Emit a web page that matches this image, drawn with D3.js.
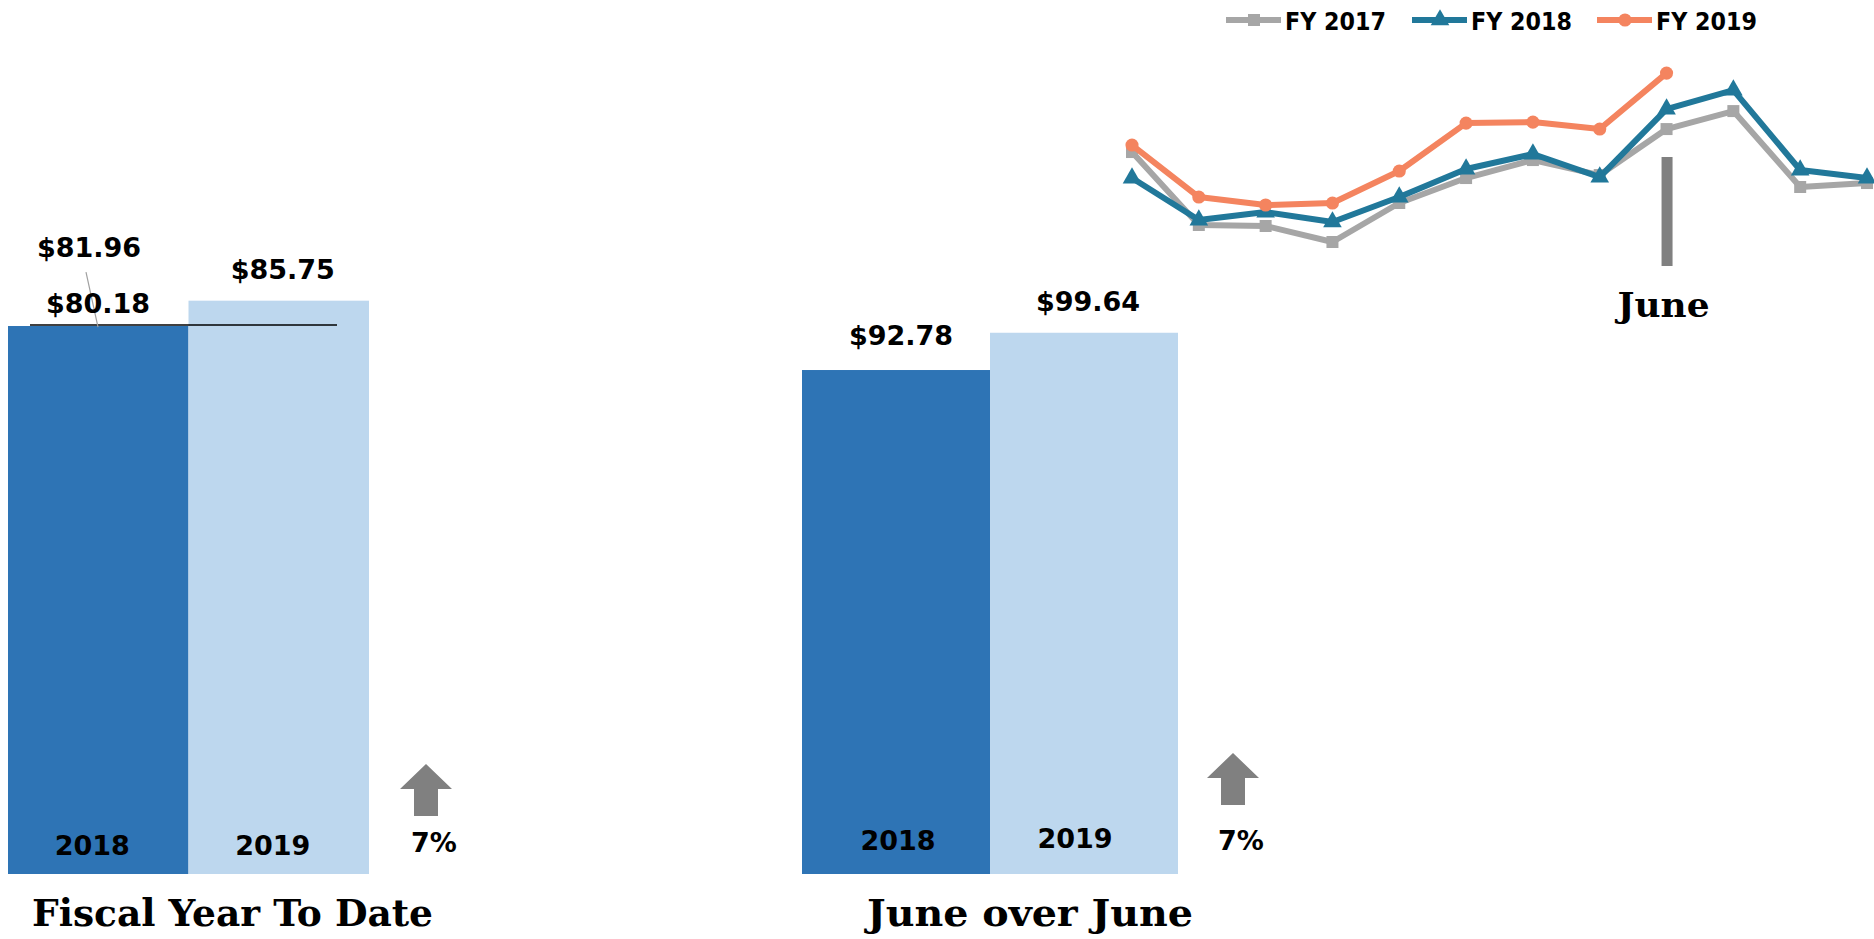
<!DOCTYPE html>
<html>
<head>
<meta charset="utf-8">
<script src="https://cdn.jsdelivr.net/npm/d3@7"></script>
<style>
  html, body { margin: 0; padding: 0; background: #fff; }
  svg { display: block; }
  .num { font-family: "DejaVu Sans", sans-serif; font-weight: bold; fill: #000; }
  .title { font-family: "DejaVu Serif", serif; font-weight: bold; fill: #000; }
</style>
</head>
<body>
<svg id="chart" width="1874" height="939"></svg>
<script>
// ---- data ----
const fytdYears = ["2018", "2019"];
const fytdValues = [81.96, 85.75];
const fytdPriorNote = 80.18;
const fytdChange = "7%";

const juneYears = ["2018", "2019"];
const juneValues = [92.78, 99.64];
const juneChange = "7%";

const months = ["Oct", "Nov", "Dec", "Jan", "Feb", "Mar", "Apr", "May", "Jun", "Jul", "Aug", "Sep"];
const seriesNames = ["FY 2017", "FY 2018", "FY 2019"];
const fy2017 = [84.59, 70.68, 70.49, 67.44, 74.87, 79.63, 83.06, 80.20, 88.97, 92.40, 77.92, 78.68];
const fy2018 = [79.63, 71.63, 73.15, 71.25, 76.01, 81.35, 84.21, 79.82, 92.78, 96.40, 81.16, 79.63];
const fy2019 = [85.92, 76.01, 74.49, 74.87, 80.97, 90.11, 90.30, 88.97, 99.64];
const highlightMonth = "Jun";

// ---- styles ----
const barColors = ["#2E74B5", "#BDD7EE"];
const lineColors = ["#A6A6A6", "#21789A", "#F4845F"];
const arrowColor = "#808080";
const money = v => "$" + d3.format(".2f")(v);

const svg = d3.select("#chart");

// ---- bar panel ----
function barPanel(opt) {
  const g = svg.append("g");
  const x = d3.scaleBand().domain(opt.years).range([opt.x0, opt.x1]).padding(0);
  const y = d3.scaleLinear().domain([0, 100]).range([opt.base, opt.base - opt.pxPer100]);

  g.selectAll("rect.bar").data(opt.values).join("rect")
    .attr("class", "bar")
    .attr("x", (d, i) => x(opt.years[i]))
    .attr("width", x.bandwidth())
    .attr("y", d => y(d))
    .attr("height", d => y(0) - y(d))
    .attr("fill", (d, i) => barColors[i]);

  // year labels inside the bars
  g.selectAll("text.yr").data(opt.years).join("text")
    .attr("class", "num yr")
    .attr("x", (d, i) => x(d) + x.bandwidth() / 2 + opt.yearDx[i])
    .attr("y", (d, i) => y(0) + opt.yearDy[i])
    .attr("text-anchor", "middle")
    .attr("font-size", 27)
    .text(d => d);

  // change arrow and percentage
  const ax = opt.x1 + opt.arrowDx;
  const at = opt.arrowTop;
  const arrow = d3.path();
  arrow.moveTo(ax, at);
  arrow.lineTo(ax + 26, at + 25);
  arrow.lineTo(ax + 12, at + 25);
  arrow.lineTo(ax + 12, at + 52);
  arrow.lineTo(ax - 12, at + 52);
  arrow.lineTo(ax - 12, at + 25);
  arrow.lineTo(ax - 26, at + 25);
  arrow.closePath();
  g.append("path").attr("d", arrow.toString()).attr("fill", arrowColor);
  g.append("text").attr("class", "num")
    .attr("x", ax + 8).attr("y", opt.pctY)
    .attr("text-anchor", "middle").attr("font-size", 27)
    .text(opt.change);

  g.append("text").attr("class", "title")
    .attr("x", opt.titleX).attr("y", 926)
    .attr("font-size", 38)
    .attr("textLength", opt.titleLen).attr("lengthAdjust", "spacingAndGlyphs")
    .text(opt.title);
  return { g, x, y };
}

// Fiscal year to date
const left = barPanel({
  years: fytdYears, values: fytdValues, x0: 8, x1: 369, base: 874, pxPer100: 668.6,
  yearDx: [-6, -6], yearDy: [-19, -19], arrowDx: 57, arrowTop: 764, pctY: 852,
  change: fytdChange, title: "Fiscal Year To Date", titleX: 32, titleLen: 401
});
{
  const { g, x, y } = left;
  const topY = y(fytdValues[0]);
  // level of last year's bar carried across
  g.append("line")
    .attr("x1", x(fytdYears[0]) + 22).attr("x2", x(fytdYears[1]) + x.bandwidth() - 32)
    .attr("y1", topY - 1).attr("y2", topY - 1)
    .attr("stroke", "#000").attr("stroke-width", 1.6);
  // leader from the moved label down to its bar
  g.append("line")
    .attr("x1", x(fytdYears[0]) + 78).attr("y1", topY - 54)
    .attr("x2", x(fytdYears[0]) + 90).attr("y2", topY + 1)
    .attr("stroke", "#A0A0A0").attr("stroke-width", 1.2);
  g.append("text").attr("class", "num")
    .attr("x", x(fytdYears[0]) + 81).attr("y", topY - 69)
    .attr("text-anchor", "middle").attr("font-size", 27)
    .text(money(fytdValues[0]));
  g.append("text").attr("class", "num")
    .attr("x", x(fytdYears[0]) + 90).attr("y", topY - 13)
    .attr("text-anchor", "middle").attr("font-size", 27)
    .text(money(fytdPriorNote));
  g.append("text").attr("class", "num")
    .attr("x", x(fytdYears[1]) + x.bandwidth() / 2 + 4).attr("y", y(fytdValues[1]) - 22)
    .attr("text-anchor", "middle").attr("font-size", 27)
    .text(money(fytdValues[1]));
}

// June over June
const right = barPanel({
  years: juneYears, values: juneValues, x0: 802, x1: 1178, base: 874, pxPer100: 543.2,
  yearDx: [2, -9], yearDy: [-24, -26], arrowDx: 55, arrowTop: 753, pctY: 850,
  change: juneChange, title: "June over June", titleX: 867, titleLen: 326
});
{
  const { g, x, y } = right;
  g.selectAll("text.val").data(juneValues).join("text")
    .attr("class", "num val")
    .attr("x", (d, i) => x(juneYears[i]) + x.bandwidth() / 2 + [5, 4][i])
    .attr("y", (d, i) => y(d) - [25, 22][i])
    .attr("text-anchor", "middle").attr("font-size", 27)
    .text(d => money(d));
}

// ---- monthly trend ----
{
  const g = svg.append("g");
  const x = d3.scalePoint().domain(months).range([1132, 1867]);
  const y = d3.scaleLinear().domain([60, 105]).range([281, 45]);
  const series = [fy2017, fy2018, fy2019];

  // June marker
  const jx = x(highlightMonth);
  g.append("rect").attr("x", jx - 5).attr("width", 11)
    .attr("y", 157).attr("height", 109).attr("fill", arrowColor);
  g.append("text").attr("class", "title")
    .attr("x", jx - 49).attr("y", 317)
    .attr("font-size", 34).attr("textLength", 92).attr("lengthAdjust", "spacingAndGlyphs")
    .text("June");

  const line = d3.line().x((d, i) => x(months[i])).y(d => y(d));
  const symbols = [d3.symbolSquare, d3.symbolTriangle, d3.symbolCircle];
  const symSizes = [144, 150, 135];

  series.forEach((vals, s) => {
    g.append("path").datum(vals)
      .attr("d", line).attr("fill", "none")
      .attr("stroke", lineColors[s]).attr("stroke-width", 6)
      .attr("stroke-linejoin", "round");
    g.selectAll("path.m" + s).data(vals).join("path")
      .attr("class", "m" + s)
      .attr("transform", (d, i) => `translate(${x(months[i])},${y(d)})`)
      .attr("d", d3.symbol().type(symbols[s]).size(symSizes[s]))
      .attr("fill", lineColors[s]);
  });

  // legend
  const legX = [1226, 1412, 1597];
  seriesNames.forEach((name, s) => {
    const lg = g.append("g").attr("transform", `translate(${legX[s]},20)`);
    lg.append("line").attr("x1", 0).attr("x2", 55).attr("y1", 0).attr("y2", 0)
      .attr("stroke", lineColors[s]).attr("stroke-width", 6);
    lg.append("path").attr("transform", "translate(28,0)")
      .attr("d", d3.symbol().type(symbols[s]).size(symSizes[s]))
      .attr("fill", lineColors[s]);
    lg.append("text").attr("class", "num")
      .attr("x", 59).attr("y", 10).attr("font-size", 24)
      .attr("textLength", 101).attr("lengthAdjust", "spacingAndGlyphs")
      .text(name);
  });
}
</script>
</body>
</html>
